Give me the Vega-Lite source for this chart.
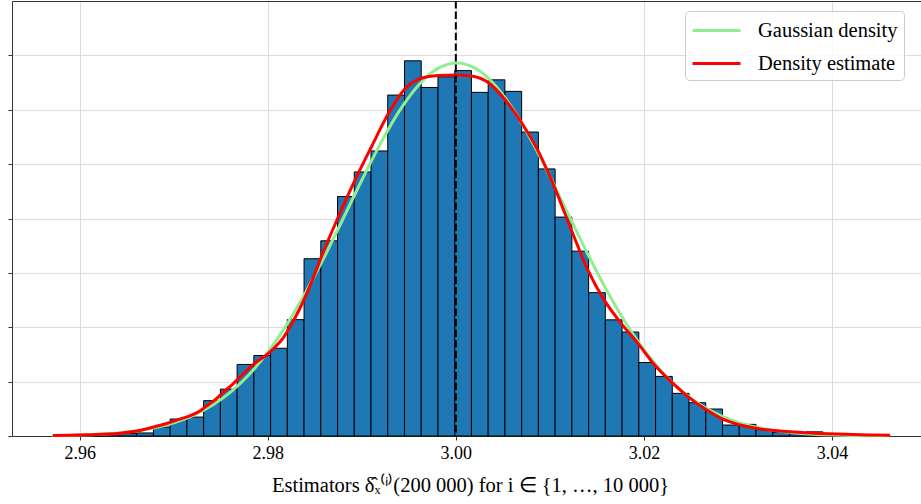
{
  "$schema": "https://vega.github.io/schema/vega-lite/v6.json",
  "width": 909,
  "height": 435,
  "autosize": {"type": "none"},
  "padding": {"left": 12, "top": 1, "right": 0, "bottom": 68},
  "background": "white",
  "config": {
    "view": {"stroke": null},
    "font": "Liberation Serif",
    "legend": {
      "orient": "none",
      "legendX": 673,
      "legendY": 10,
      "symbolType": "M-2,0H2",
      "symbolSize": 576,
      "symbolOffset": 12,
      "symbolStrokeWidth": 3,
      "labelFont": "Liberation Serif",
      "labelFontSize": 20.5,
      "labelColor": "#000000",
      "labelOffset": 28,
      "padding": 6,
      "rowPadding": 9,
      "cornerRadius": 4,
      "strokeColor": "#cccccc",
      "fillColor": "rgba(255,255,255,0.8)",
      "title": null
    }
  },
  "datasets": {
    "bins": [
      {"bin_start": 2.95716, "bin_end": 2.95894, "density": 0.06},
      {"bin_start": 2.95894, "bin_end": 2.96072, "density": 0.0},
      {"bin_start": 2.96072, "bin_end": 2.9625, "density": 0.06},
      {"bin_start": 2.9625, "bin_end": 2.96428, "density": 0.17},
      {"bin_start": 2.96428, "bin_end": 2.96606, "density": 0.22},
      {"bin_start": 2.96606, "bin_end": 2.96784, "density": 0.28},
      {"bin_start": 2.96784, "bin_end": 2.96962, "density": 0.83},
      {"bin_start": 2.96962, "bin_end": 2.9714, "density": 1.56},
      {"bin_start": 2.9714, "bin_end": 2.97318, "density": 1.74},
      {"bin_start": 2.97318, "bin_end": 2.97496, "density": 3.25},
      {"bin_start": 2.97496, "bin_end": 2.97674, "density": 4.31},
      {"bin_start": 2.97674, "bin_end": 2.97852, "density": 6.58},
      {"bin_start": 2.97852, "bin_end": 2.9803, "density": 7.4},
      {"bin_start": 2.9803, "bin_end": 2.98208, "density": 8.07},
      {"bin_start": 2.98208, "bin_end": 2.98386, "density": 10.7},
      {"bin_start": 2.98386, "bin_end": 2.98564, "density": 16.3},
      {"bin_start": 2.98564, "bin_end": 2.98742, "density": 17.95},
      {"bin_start": 2.98742, "bin_end": 2.9892, "density": 22.02},
      {"bin_start": 2.9892, "bin_end": 2.99098, "density": 24.28},
      {"bin_start": 2.99098, "bin_end": 2.99276, "density": 26.21},
      {"bin_start": 2.99276, "bin_end": 2.99454, "density": 31.35},
      {"bin_start": 2.99454, "bin_end": 2.99632, "density": 34.5},
      {"bin_start": 2.99632, "bin_end": 2.9981, "density": 32.05},
      {"bin_start": 2.9981, "bin_end": 2.99988, "density": 33.03},
      {"bin_start": 2.99988, "bin_end": 3.00166, "density": 33.6},
      {"bin_start": 3.00166, "bin_end": 3.00344, "density": 31.6},
      {"bin_start": 3.00344, "bin_end": 3.00522, "density": 32.75},
      {"bin_start": 3.00522, "bin_end": 3.007, "density": 31.69},
      {"bin_start": 3.007, "bin_end": 3.00878, "density": 27.95},
      {"bin_start": 3.00878, "bin_end": 3.01056, "density": 24.56},
      {"bin_start": 3.01056, "bin_end": 3.01234, "density": 20.13},
      {"bin_start": 3.01234, "bin_end": 3.01412, "density": 17.0},
      {"bin_start": 3.01412, "bin_end": 3.0159, "density": 13.18},
      {"bin_start": 3.0159, "bin_end": 3.01768, "density": 10.68},
      {"bin_start": 3.01768, "bin_end": 3.01946, "density": 9.56},
      {"bin_start": 3.01946, "bin_end": 3.02124, "density": 6.76},
      {"bin_start": 3.02124, "bin_end": 3.02302, "density": 5.48},
      {"bin_start": 3.02302, "bin_end": 3.0248, "density": 3.92},
      {"bin_start": 3.0248, "bin_end": 3.02658, "density": 3.06},
      {"bin_start": 3.02658, "bin_end": 3.02836, "density": 2.48},
      {"bin_start": 3.02836, "bin_end": 3.03014, "density": 1.01},
      {"bin_start": 3.03014, "bin_end": 3.03192, "density": 1.07},
      {"bin_start": 3.03192, "bin_end": 3.0337, "density": 0.58},
      {"bin_start": 3.0337, "bin_end": 3.03548, "density": 0.34},
      {"bin_start": 3.03548, "bin_end": 3.03726, "density": 0.22},
      {"bin_start": 3.03726, "bin_end": 3.03904, "density": 0.38},
      {"bin_start": 3.03904, "bin_end": 3.04082, "density": 0.11},
      {"bin_start": 3.04082, "bin_end": 3.0426, "density": 0.06},
      {"bin_start": 3.0426, "bin_end": 3.04438, "density": 0.0},
      {"bin_start": 3.04438, "bin_end": 3.04616, "density": 0.06}
    ],
    "gauss": [
      {"x": 2.9571, "density": 0.037},
      {"x": 2.9601, "density": 0.093},
      {"x": 2.9621, "density": 0.165},
      {"x": 2.9641, "density": 0.285},
      {"x": 2.9661, "density": 0.478},
      {"x": 2.9681, "density": 0.778},
      {"x": 2.9701, "density": 1.23},
      {"x": 2.9721, "density": 1.89},
      {"x": 2.9741, "density": 2.82},
      {"x": 2.9761, "density": 4.08},
      {"x": 2.9781, "density": 5.73},
      {"x": 2.9801, "density": 7.82},
      {"x": 2.9821, "density": 10.36},
      {"x": 2.9841, "density": 13.31},
      {"x": 2.9861, "density": 16.62},
      {"x": 2.9881, "density": 20.14},
      {"x": 2.9901, "density": 23.7},
      {"x": 2.9921, "density": 27.07},
      {"x": 2.9941, "density": 30.03},
      {"x": 2.9961, "density": 32.33},
      {"x": 2.9981, "density": 33.8},
      {"x": 3.0001, "density": 34.3},
      {"x": 3.0021, "density": 33.8},
      {"x": 3.0041, "density": 32.33},
      {"x": 3.0061, "density": 30.03},
      {"x": 3.0081, "density": 27.07},
      {"x": 3.0101, "density": 23.7},
      {"x": 3.0121, "density": 20.14},
      {"x": 3.0141, "density": 16.62},
      {"x": 3.0161, "density": 13.31},
      {"x": 3.0181, "density": 10.36},
      {"x": 3.0201, "density": 7.82},
      {"x": 3.0221, "density": 5.73},
      {"x": 3.0241, "density": 4.08},
      {"x": 3.0261, "density": 2.82},
      {"x": 3.0281, "density": 1.89},
      {"x": 3.0301, "density": 1.23},
      {"x": 3.0321, "density": 0.778},
      {"x": 3.0341, "density": 0.478},
      {"x": 3.0361, "density": 0.285},
      {"x": 3.0381, "density": 0.165},
      {"x": 3.0401, "density": 0.093},
      {"x": 3.0421, "density": 0.05},
      {"x": 3.0441, "density": 0.027},
      {"x": 3.0461, "density": 0.014}
    ],
    "kde": [
      {"x": 2.95716, "density": 0.05},
      {"x": 2.96284, "density": 0.18},
      {"x": 2.96426, "density": 0.26},
      {"x": 2.96638, "density": 0.5},
      {"x": 2.96798, "density": 0.85},
      {"x": 2.96922, "density": 1.15},
      {"x": 2.97064, "density": 1.55},
      {"x": 2.9717, "density": 1.85},
      {"x": 2.97277, "density": 2.3},
      {"x": 2.97348, "density": 2.75},
      {"x": 2.97436, "density": 3.3},
      {"x": 2.97524, "density": 4.0},
      {"x": 2.97631, "density": 4.8},
      {"x": 2.97702, "density": 5.4},
      {"x": 2.9788, "density": 6.8},
      {"x": 2.97986, "density": 7.45},
      {"x": 2.98056, "density": 8.0},
      {"x": 2.98163, "density": 9.0},
      {"x": 2.98234, "density": 10.0},
      {"x": 2.9834, "density": 11.7},
      {"x": 2.98394, "density": 12.7},
      {"x": 2.98518, "density": 15.3},
      {"x": 2.98571, "density": 16.5},
      {"x": 2.98748, "density": 20.1},
      {"x": 2.98926, "density": 23.5},
      {"x": 2.99103, "density": 26.6},
      {"x": 2.9928, "density": 29.6},
      {"x": 2.99457, "density": 31.9},
      {"x": 2.99635, "density": 32.9},
      {"x": 2.99812, "density": 33.15},
      {"x": 2.99989, "density": 33.2},
      {"x": 3.00167, "density": 33.1},
      {"x": 3.00344, "density": 32.5},
      {"x": 3.00521, "density": 30.95},
      {"x": 3.00699, "density": 28.8},
      {"x": 3.00876, "density": 26.2},
      {"x": 3.01053, "density": 22.8},
      {"x": 3.01231, "density": 18.9},
      {"x": 3.01407, "density": 15.2},
      {"x": 3.01585, "density": 12.4},
      {"x": 3.01745, "density": 10.5},
      {"x": 3.01939, "density": 8.5},
      {"x": 3.02117, "density": 6.5},
      {"x": 3.02295, "density": 4.95},
      {"x": 3.02471, "density": 3.6},
      {"x": 3.02649, "density": 2.5},
      {"x": 3.02827, "density": 1.6},
      {"x": 3.03003, "density": 1.07},
      {"x": 3.03181, "density": 0.73},
      {"x": 3.03359, "density": 0.52},
      {"x": 3.03713, "density": 0.31},
      {"x": 3.04067, "density": 0.18},
      {"x": 3.04404, "density": 0.1},
      {"x": 3.04617, "density": 0.06}
    ],
    "truth": [{"x": 3.0}]
  },
  "layer": [
    {
      "data": {"name": "bins"},
      "mark": {"type": "bar", "fill": "#1f77b4", "stroke": "#000000", "strokeWidth": 1},
      "encoding": {
        "x": {
          "field": "bin_start", "type": "quantitative",
          "scale": {"domain": [2.9528, 3.04947], "nice": false, "zero": false},
          "axis": {
            "orient": "bottom",
            "values": [2.96, 2.98, 3.0, 3.02, 3.04],
            "format": ".2f",
            "grid": true, "gridColor": "#dcdcdc", "gridWidth": 1,
            "domain": true, "domainColor": "#333333", "domainWidth": 1,
            "ticks": true, "tickColor": "#333333", "tickSize": 4,
            "labelFont": "Liberation Serif", "labelFontSize": 18, "labelColor": "#000000", "labelPadding": 4,
            "title": "Estimators δ̂ₓ⁽ⁱ⁾(200 000) for i ∈ {1, …, 10 000}",
            "titleFont": "Liberation Serif", "titleFontSize": 20.5, "titleFontWeight": "normal", "titleColor": "#000000",
            "titlePadding": 13, "titleX": 458
          }
        },
        "x2": {"field": "bin_end"},
        "y": {
          "field": "density", "type": "quantitative",
          "scale": {"domain": [0, 40], "nice": false},
          "axis": {
            "values": [0, 5, 10, 15, 20, 25, 30, 35, 40],
            "labels": false, "title": null,
            "grid": true,
            "gridColor": {"condition": {"test": "datum.value === 40", "value": "#333333"}, "value": "#dcdcdc"},
            "gridWidth": 1,
            "domain": true, "domainColor": "#333333", "domainWidth": 1,
            "ticks": true, "tickColor": "#333333", "tickSize": 4,
            "tickOpacity": {"condition": {"test": "datum.value === 40", "value": 0}, "value": 1}
          }
        },
        "y2": {"datum": 0}
      }
    },
    {
      "data": {"name": "gauss"},
      "mark": {"type": "line", "strokeWidth": 3, "interpolate": "monotone"},
      "encoding": {
        "x": {"field": "x", "type": "quantitative"},
        "y": {"field": "density", "type": "quantitative"},
        "color": {
          "datum": "Gaussian density",
          "scale": {"domain": ["Gaussian density", "Density estimate"], "range": ["#90ee90", "#ff0000"]},
          "legend": {"title": null}
        }
      }
    },
    {
      "data": {"name": "kde"},
      "mark": {"type": "line", "strokeWidth": 3, "interpolate": "monotone"},
      "encoding": {
        "x": {"field": "x", "type": "quantitative"},
        "y": {"field": "density", "type": "quantitative"},
        "color": {"datum": "Density estimate", "legend": {"title": null}}
      }
    },
    {
      "data": {"name": "truth"},
      "mark": {"type": "rule", "color": "#000000", "strokeWidth": 2, "strokeDash": [7.4, 3.2]},
      "encoding": {
        "x": {"field": "x", "type": "quantitative"}
      }
    }
  ]
}
